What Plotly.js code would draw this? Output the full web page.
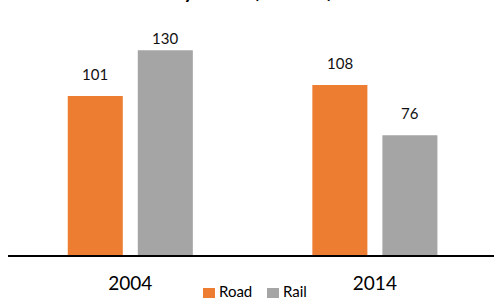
<!DOCTYPE html>
<html>
<head>
<meta charset="utf-8">
<script src="https://cdn.plot.ly/plotly-3.0.1.min.js"></script>
<style>html,body{margin:0;padding:0;background:#fff;}#chart{width:494px;height:298px;}</style>
</head>
<body>
<div id="chart"></div>
<script>
const years = ["2004", "2014"];
const roadValues = [101, 108];
const railValues = [130, 76];
const seriesNames = ["Road", "Rail"];
const titleText = "Volume transported<br>by mode (millions)";

const colors = ["#ED7D31", "#A5A5A5"];
const FONT = "Lato, 'Noto Sans', sans-serif";
const yMax = 142.9;

const traces = [roadValues, railValues].map((vals, i) => ({
  type: "bar",
  name: seriesNames[i],
  x: years,
  y: vals,
  marker: { color: colors[i] },
  hoverinfo: "skip",
  showlegend: false
}));

const annotations = [];
[roadValues, railValues].forEach((vals, i) => {
  vals.forEach((v, j) => {
    const room = (yMax - v) * 1.575;
    annotations.push({
      x: j, y: v, xref: "x", yref: "y",
      text: String(v), showarrow: false,
      xshift: i === 0 ? -35 : 35,
      yanchor: "middle", xanchor: "center",
      yshift: Math.min(22, room - 8),
      font: { family: FONT, size: 15, color: "#111" }
    });
  });
});

// title (only its lower edge falls inside the picture)
annotations.push({
  xref: "paper", yref: "paper", x: (252 - 8) / 486, y: (255 - 4) / 225,
  xanchor: "center", yanchor: "bottom", showarrow: false,
  text: titleText, align: "center",
  font: { family: FONT, size: 20, color: "#000", weight: "bold" }
});

// legend drawn as swatch shapes + text annotations
const shapes = [];
const legendX = [203, 267];
seriesNames.forEach((name, i) => {
  shapes.push({
    type: "rect", xref: "paper", yref: "paper",
    x0: (legendX[i] - 8) / 486, x1: (legendX[i] - 8 + 12) / 486,
    y0: -(288 - 255) / 225 - 11 / 225, y1: -(288 - 255) / 225,
    fillcolor: colors[i], line: { width: 0 }
  });
  annotations.push({
    xref: "paper", yref: "paper",
    x: (legendX[i] - 8 + 14) / 486, y: -(291 - 255) / 225,
    xanchor: "left", yanchor: "middle",
    text: name, showarrow: false,
    font: { family: FONT, size: 15, color: "#000" }
  });
});

const layout = {
  width: 494, height: 298,
  margin: { l: 8, r: 0, t: 30, b: 43 },
  paper_bgcolor: "#fff", plot_bgcolor: "#fff",
  barmode: "group",
  bargap: 0.4274,
  bargroupgap: 0.214,
  xaxis: {
    type: "category",
    range: [-0.5, 1.487],
    showline: true, linecolor: "#000", linewidth: 1.5,
    ticks: "", showgrid: false, zeroline: false,
    tickfont: { family: FONT, size: 19, color: "#000" },
    ticklabelstandoff: 11
  },
  yaxis: {
    range: [0, yMax], showticklabels: false, showline: false, ticks: "",
    showgrid: false, zeroline: false
  },
  showlegend: false,
  annotations: annotations,
  shapes: shapes
};

Plotly.newPlot("chart", traces, layout, { staticPlot: true, displayModeBar: false });
</script>
</body>
</html>
